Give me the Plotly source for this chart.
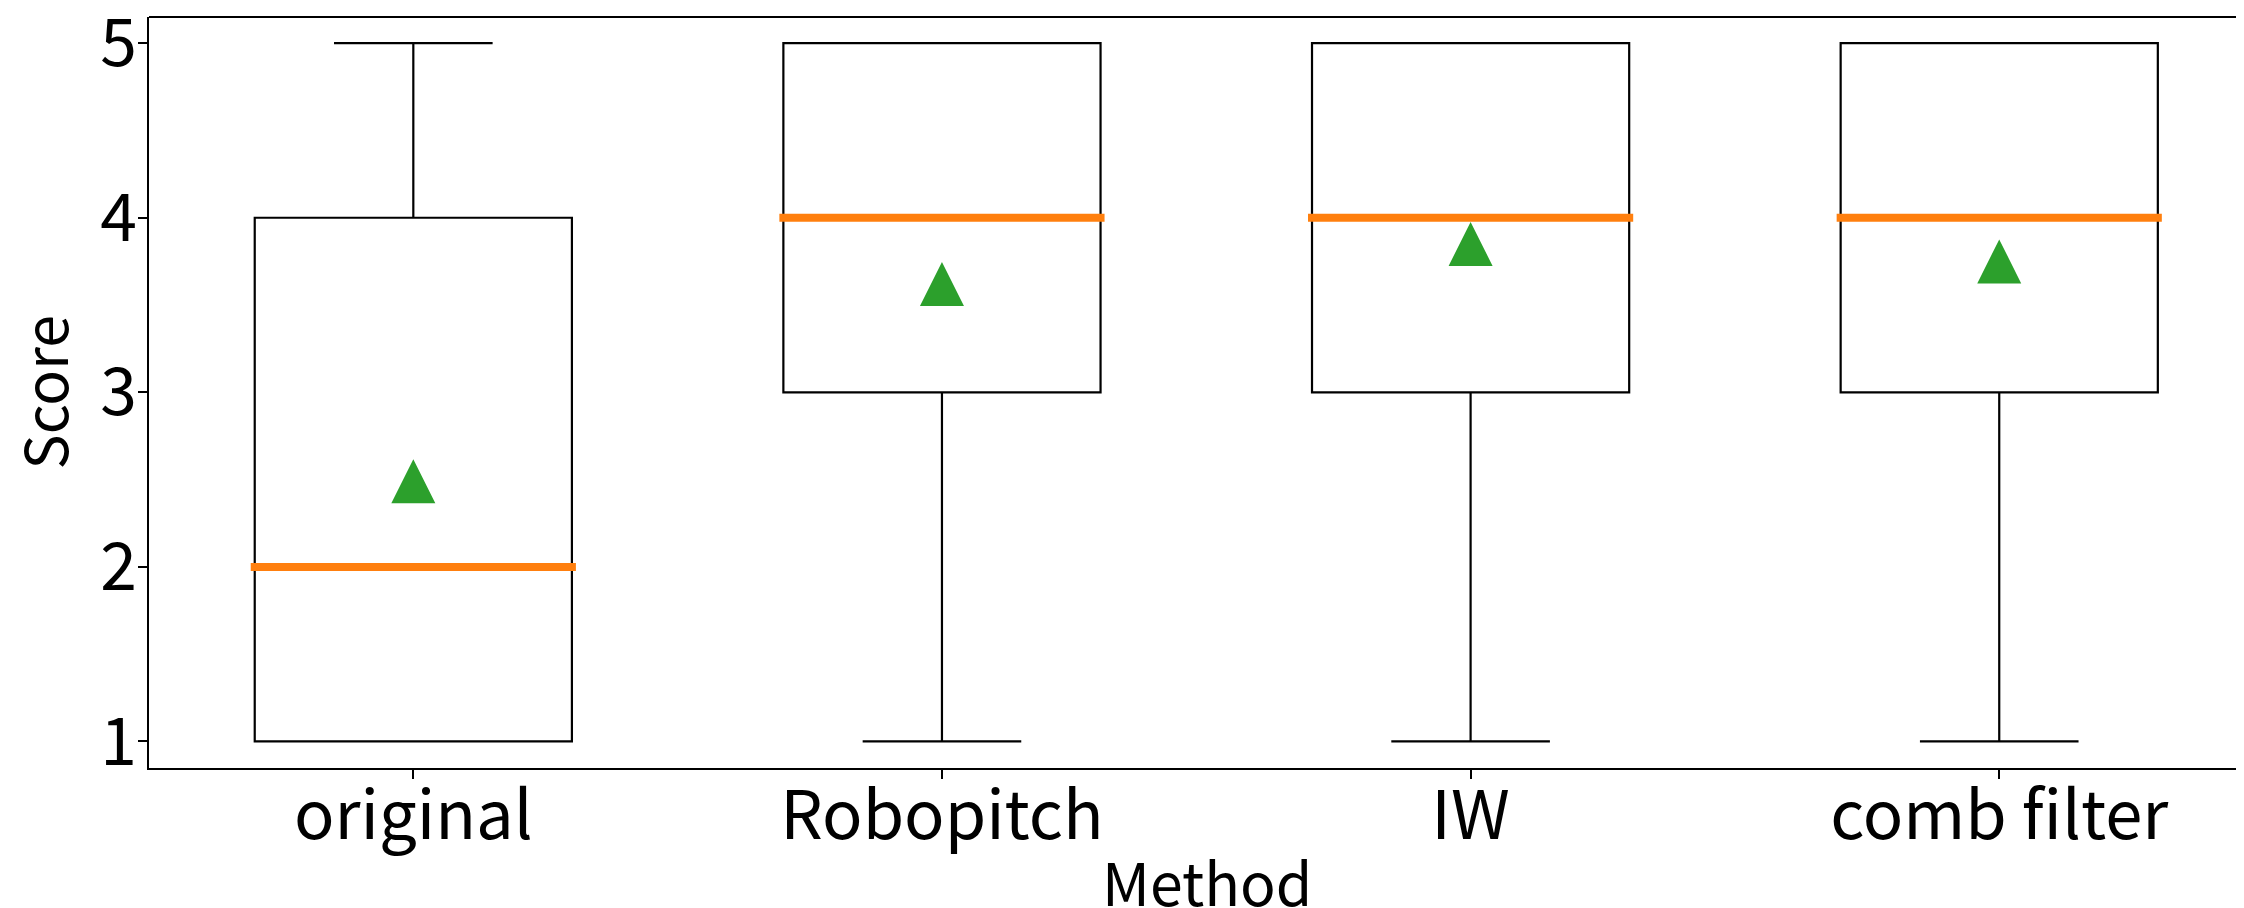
import plotly.graph_objects as go

methods = ["original", "Robopitch", "IW", "comb filter"]
positions = [1, 2, 3, 4]
mins = [1, 1, 1, 1]
q1s = [1, 3, 3, 3]
medians = [2, 4, 4, 4]
q3s = [4, 5, 5, 5]
maxs = [5, 5, 5, 5]
means = [2.49, 3.62, 3.85, 3.75]

# page body has an 8px default margin: build the figure 8px smaller
OFF = 8
W, H = 2244 - OFF, 908 - OFF
ML, MR, MT = 149 - OFF, 0, 17 - OFF
PLOT_BOTTOM = 768 - OFF
MB = H - PLOT_BOTTOM
XR = [0.5, 4.463]
YR = [0.848, 5.15]
PW, PH = W - ML - MR, H - MT - MB
px_per_x = PW / (XR[1] - XR[0])
px_per_y = PH / (YR[1] - YR[0])

BOX_W = 0.6
FONT = "Noto Sans CJK JP"

fig = go.Figure()
fig.add_trace(go.Box(
    x=positions, q1=q1s, median=medians, q3=q3s,
    lowerfence=mins, upperfence=maxs,
    width=BOX_W, whiskerwidth=0.5,
    fillcolor="rgba(0,0,0,0)",
    line=dict(color="black", width=2.2),
    boxpoints=False, showlegend=False, hoverinfo="skip",
))

# median lines
mx, my = [], []
ext = BOX_W / 2 + 4 / px_per_x
for p, m in zip(positions, medians):
    mx += [p - ext, p + ext, None]
    my += [m, m, None]
fig.add_trace(go.Scatter(x=mx, y=my, mode="lines",
                         line=dict(color="#ff7f0e", width=8),
                         showlegend=False, hoverinfo="skip"))

# mean triangles (matplotlib '^' style: equal width and height)
hw = 22 / px_per_x
hh = 22 / px_per_y
tx, ty = [], []
for p, m in zip(positions, means):
    tx += [p - hw, p + hw, p, p - hw, None]
    ty += [m - hh, m - hh, m + hh, m - hh, None]
fig.add_trace(go.Scatter(x=tx, y=ty, mode="lines", fill="toself",
                         fillcolor="#2ca02c", line=dict(color="#2ca02c", width=0),
                         showlegend=False, hoverinfo="skip"))

fig.update_layout(
    width=W, height=H,
    margin=dict(l=ML, r=MR, t=MT, b=MB, pad=0),
    paper_bgcolor="white", plot_bgcolor="white",
    font=dict(family=FONT, color="black"),
    xaxis=dict(
        range=XR, tickmode="array", tickvals=positions, ticktext=methods,
        showgrid=False, zeroline=False, showline=True, linecolor="black", linewidth=2,
        ticks="outside", ticklen=9, tickwidth=2, tickcolor="black",
        tickfont=dict(size=67, family=FONT), automargin=False,
        ticklabeloverflow="allow", ticklabelstandoff=-20,
    ),
    yaxis=dict(
        range=YR, tickmode="array", tickvals=[1, 2, 3, 4, 5],
        showgrid=False, zeroline=False, showline=True, linecolor="black", linewidth=2,
        ticks="outside", ticklen=9, tickwidth=2, tickcolor="black",
        tickfont=dict(size=66, family=FONT), automargin=False,
        ticklabeloverflow="allow", ticklabelstandoff=-12,
    ),
    shapes=[dict(type="line", xref="paper", yref="paper", x0=0, x1=1, y0=1, y1=1,
                 line=dict(color="black", width=2))],
    annotations=[
        dict(text="Method", xref="paper", yref="paper",
             x=(1207 - OFF - ML) / PW, y=(PLOT_BOTTOM - (880 - OFF)) / PH,
             xanchor="center", yanchor="middle", showarrow=False,
             font=dict(size=59, family=FONT)),
        dict(text="Score", xref="paper", yref="paper",
             x=(42 - OFF - ML) / PW, y=0.5, textangle=-90,
             xanchor="center", yanchor="middle", showarrow=False,
             font=dict(size=59, family=FONT)),
    ],
)

fig.write_html("out.html")
